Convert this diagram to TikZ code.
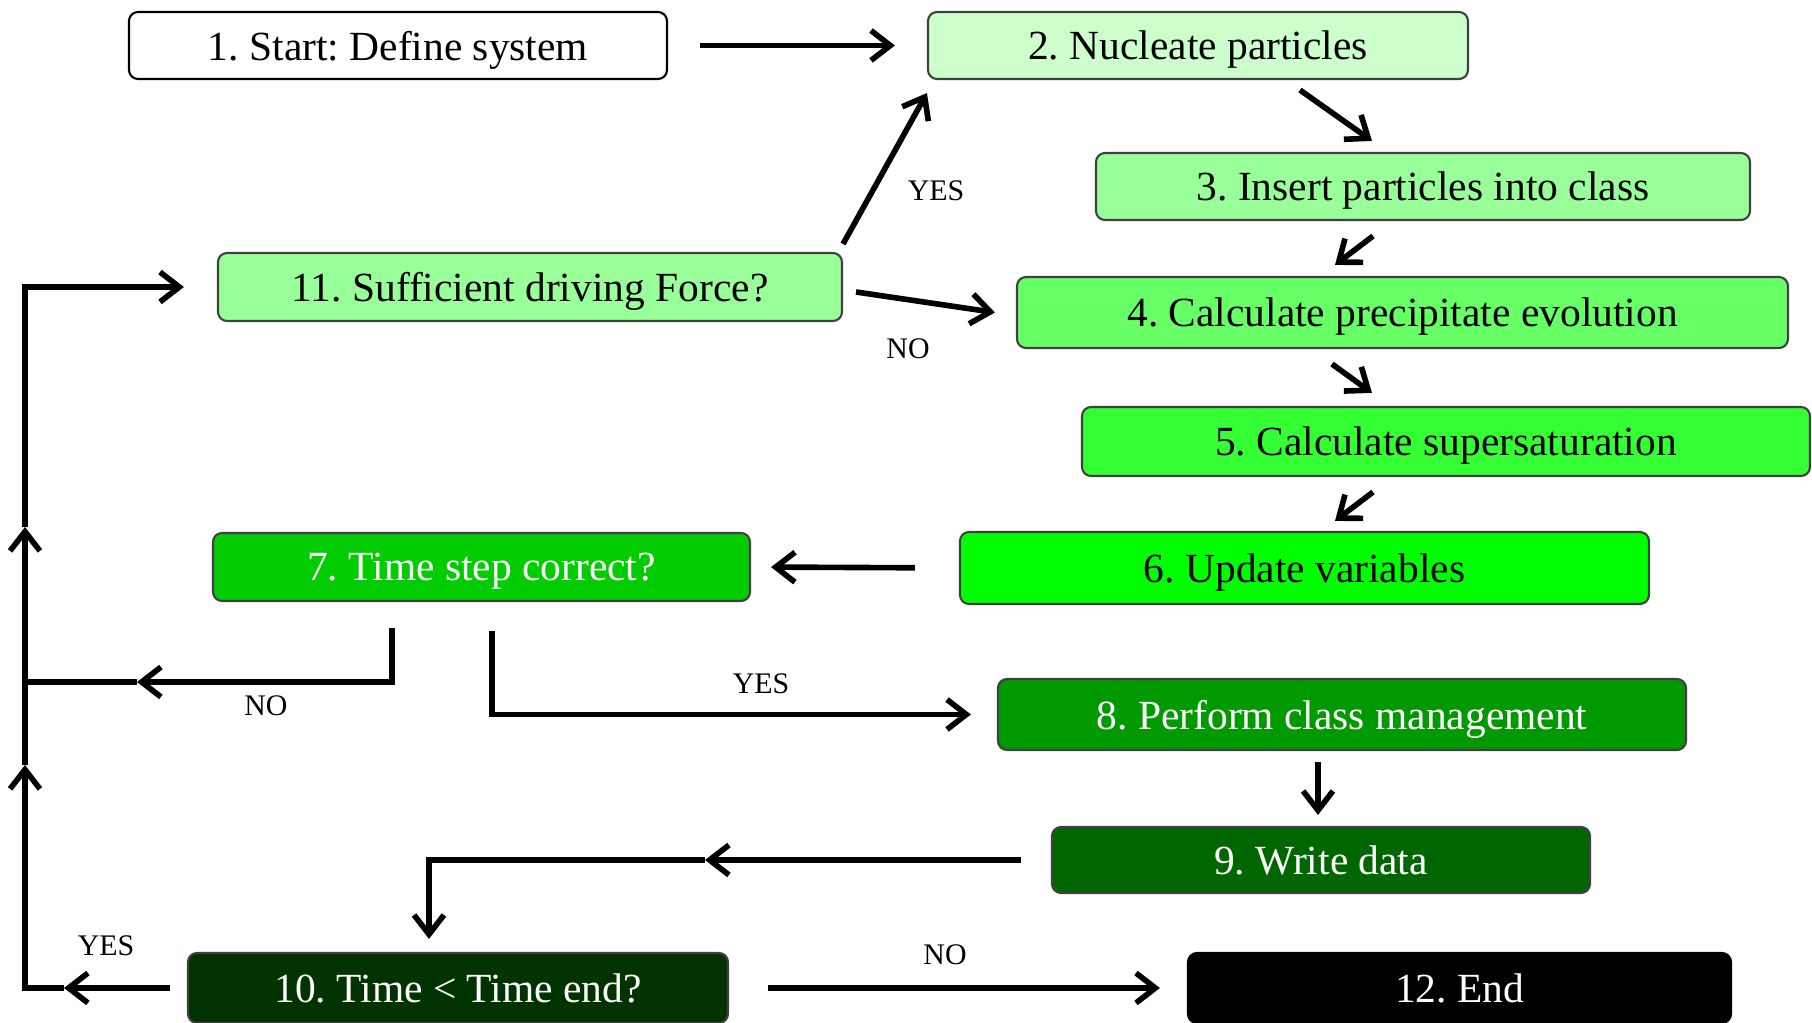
\documentclass[tikz,border=0pt]{standalone}
\usepackage{fontspec}
\setmainfont{Liberation Serif}
\usetikzlibrary{arrows.meta}
\frenchspacing

\definecolor{stepA}{HTML}{CCFFCC}
\definecolor{stepB}{HTML}{99FF99}
\definecolor{stepC}{HTML}{66FF66}
\definecolor{stepD}{HTML}{33FF33}
\definecolor{stepE}{HTML}{00FF00}
\definecolor{stepF}{HTML}{00CC00}
\definecolor{stepG}{HTML}{009900}
\definecolor{stepH}{HTML}{006600}
\definecolor{stepI}{HTML}{003300}

\begin{document}
\begin{tikzpicture}[
    every node/.style={font=\fontsize{11.8}{14}\selectfont},
    stage/.style={rectangle, rounded corners=0.09cm, draw=black!75, line width=0.6pt, align=center, inner sep=0pt, text depth=0pt, minimum height=0.68cm},
    dark/.style={text=white},
    lbl/.style={font=\fontsize{8.5}{10}\selectfont, inner sep=0pt},
    arr/.style={-{Straight Barb[length=5.5pt,width=8.5pt]}, line width=1.6pt},
    ln/.style={line width=1.6pt}
]
\useasboundingbox (0,0) rectangle (18.12,-10.23);

% --- process steps ---
\node[stage, fill=white, draw=black, minimum width=5.38cm, minimum height=0.67cm] (n1) at (3.98,-0.455) {1. Start: Define system};
\node[stage, fill=stepA, minimum width=5.40cm, minimum height=0.67cm] (n2) at (11.98,-0.455) {2. Nucleate particles};
\node[stage, fill=stepB, minimum width=6.54cm, minimum height=0.67cm] (n3) at (14.23,-1.865) {3. Insert particles into class};
\node[stage, fill=stepC, minimum width=7.71cm, minimum height=0.71cm] (n4) at (14.025,-3.125) {4. Calculate precipitate evolution};
\node[stage, fill=stepD, minimum width=7.28cm, minimum height=0.69cm] (n5) at (14.46,-4.415) {5. Calculate supersaturation};
\node[stage, fill=stepE, minimum width=6.89cm, minimum height=0.72cm] (n6) at (13.045,-5.68) {6. Update variables};
\node[stage, dark, fill=stepF, minimum width=5.37cm] (n7) at (4.815,-5.67) {7. Time step correct?};
\node[stage, dark, fill=stepG, minimum width=6.88cm, minimum height=0.71cm] (n8) at (13.42,-7.145) {8. Perform class management};
\node[stage, dark, fill=stepH, minimum width=5.38cm, minimum height=0.66cm] (n9) at (13.21,-8.60) {9. Write data};
\node[stage, dark, fill=stepI, minimum width=5.40cm, minimum height=0.70cm] (n10) at (4.58,-9.88) {10. Time < Time end?};
\node[stage, fill=stepB, minimum width=6.24cm] (n11) at (5.30,-2.87) {11. Sufficient driving Force?};
\node[stage, dark, fill=black, draw=black, minimum width=5.43cm, minimum height=0.70cm] (n12) at (14.595,-9.88) {12. End};

% --- free ends of the loop-back line ---
\coordinate (trunkB) at (0.25,-9.88);
\coordinate (trunkT) at (0.25,-2.87);
\coordinate (noJoin) at (0.25,-6.82);
\coordinate (upA) at (0.25,-7.65);
\coordinate (upB) at (0.25,-5.27);
\coordinate (yesTip) at (0.64,-9.88);
\coordinate (noTip) at (1.37,-6.82);
\coordinate (dataTip) at (7.05,-8.60);

% --- main chain ---
\draw[arr, shorten <=0.32cm, shorten >=0.32cm] (n1.east) -- (n2.west);
\draw[arr] ([xshift=1.02cm,yshift=-0.10cm]n2.south) -- ([xshift=-0.51cm,yshift=0.11cm]n3.north);
\draw[arr] ([xshift=-0.50cm,yshift=-0.15cm]n3.south) -- ([xshift=-0.675cm,yshift=0.11cm]n4.north);
\draw[arr] ([xshift=-0.705cm,yshift=-0.15cm]n4.south) -- ([xshift=-0.74cm,yshift=0.13cm]n5.north);
\draw[arr] ([xshift=-0.73cm,yshift=-0.15cm]n5.south) -- ([xshift=0.305cm,yshift=0.10cm]n6.north);
\draw[arr, shorten <=0.44cm, shorten >=0.20cm] (n6.west) -- (n7.east);

% --- time step decision ---
\draw[arr] ([xshift=-0.895cm,yshift=-0.26cm]n7.south) |- (noTip);
\draw[ln] (noTip) -- (noJoin);
\draw[arr] ([xshift=0.105cm,yshift=-0.29cm]n7.south) |- ([xshift=-0.26cm]n8.west);
\draw[arr] ([xshift=-0.24cm,yshift=-0.11cm]n8.south) -- ([xshift=-0.03cm,yshift=0.11cm]n9.north);
\draw[arr] ([xshift=-0.30cm]n9.west) -- (dataTip);
\draw[arr] (dataTip) -| ([xshift=-0.29cm,yshift=0.13cm]n10.north);

% --- end decision and loop back ---
\draw[arr, shorten <=0.39cm, shorten >=0.27cm] (n10.east) -- (n12.west);
\draw[arr] ([xshift=-0.17cm]n10.west) -- (yesTip);
\draw[arr] (yesTip) -- (trunkB) -- (upA);
\draw[arr] (upA) -- (upB);
\draw[arr] (upB) -- (trunkT) -- ([xshift=-0.33cm]n11.west);

% --- driving force decision ---
\draw[arr] ([yshift=0.08cm]n11.north east) -- ([yshift=-0.13cm]n2.south west);
\draw[arr] ([xshift=0.13cm,yshift=-0.05cm]n11.east) -- ([xshift=-0.21cm]n4.west);

% --- branch labels ---
\node[lbl] (yesForce) at (9.36,-1.91) {YES};
\node[lbl] (noForce) at (9.08,-3.49) {NO};
\node[lbl] (noStep) at (2.66,-7.06) {NO};
\node[lbl] (yesStep) at (7.61,-6.84) {YES};
\node[lbl] (yesTime) at (1.06,-9.46) {YES};
\node[lbl] (noTime) at (9.45,-9.55) {NO};
\end{tikzpicture}
\end{document}
